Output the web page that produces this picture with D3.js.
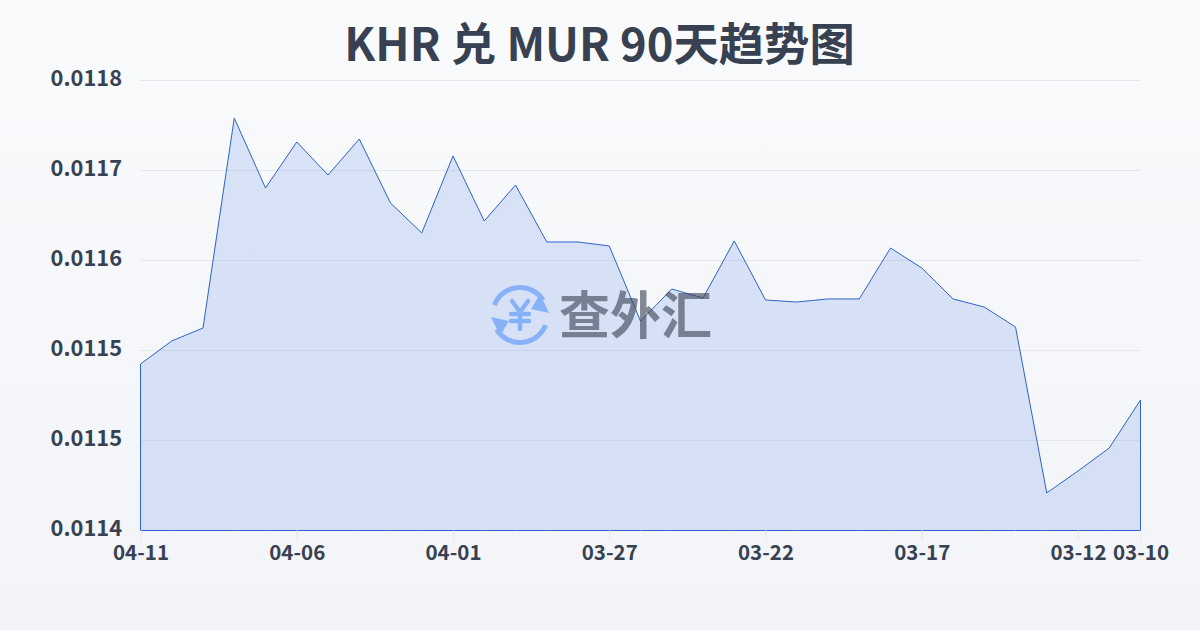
<!DOCTYPE html>
<html>
<head>
<meta charset="utf-8">
<script src="https://cdn.jsdelivr.net/npm/d3@7/dist/d3.min.js"></script>
<style>
    html, body { margin: 0; padding: 0; width: 1200px; height: 630px; overflow: hidden; }
    text { font-family: "Noto Sans CJK SC", "Noto Sans", sans-serif; }
</style>
</head>
<body>
<div id="chart"></div>
<script>
// --- Data ---
const dates = ["04-11","04-10","04-09","04-08","04-07","04-06","04-05","04-04","04-03","04-02","04-01",
    "03-31","03-30","03-29","03-28","03-27","03-26","03-25","03-24","03-23","03-22",
    "03-21","03-20","03-19","03-18","03-17","03-16","03-15","03-14","03-13","03-12","03-11","03-10"];
const rates = [0.0115295,0.0115474,0.0115575,0.0117208,0.0116664,0.0117022,0.0116765,0.0117045,0.0116547,0.0116314,0.0116913,
    0.0116407,0.0116687,0.0116244,0.0116244,0.0116213,0.0115629,0.0115878,0.0115808,0.0116252,0.0115793,
    0.0115777,0.0115801,0.0115801,0.0116197,0.0116042,0.0115801,0.0115738,0.0115583,0.0114292,0.0114463,0.0114642,0.0115015];
const xTickLabels = ["04-11","04-06","04-01","03-27","03-22","03-17","03-12","03-10"];
const yTicks = [0.0114,0.01147,0.01154,0.01161,0.01168,0.01175];
const title = "KHR 兑 MUR 90天趋势图";
const watermark = "查外汇";

const width = 1200, height = 630;
const margin = {top: 80.5, right: 59.5, bottom: 99.5, left: 140.5};

const svg = d3.select("#chart").append("svg")
    .attr("width", width).attr("height", height)
    .style("display", "block");

const defs = svg.append("defs");
const bg = defs.append("linearGradient").attr("id", "bg").attr("x1", 0).attr("y1", 0).attr("x2", 0).attr("y2", 1);
bg.append("stop").attr("offset", "0%").attr("stop-color", "#f8fafc");
bg.append("stop").attr("offset", "100%").attr("stop-color", "#f2f4f7");

svg.append("rect").attr("width", width).attr("height", height).attr("fill", "url(#bg)");

const x = d3.scalePoint().domain(dates).range([margin.left, width - margin.right]);
const y = d3.scaleLinear().domain([yTicks[0], yTicks[yTicks.length - 1]]).range([height - margin.bottom, margin.top]);

// gridlines
svg.append("g").selectAll("line").data(yTicks).join("line")
    .attr("x1", margin.left).attr("x2", width - margin.right + 0.5)
    .attr("y1", d => y(d)).attr("y2", d => y(d))
    .attr("stroke", "#e4e7ec").attr("stroke-width", 1);

// area, its outline runs round the bottom as well
const area = d3.area().x((d, i) => x(dates[i])).y0(y(yTicks[0])).y1(d => y(d));
svg.append("path").datum(rates)
    .attr("d", area)
    .attr("fill", "#3f74e6").attr("fill-opacity", 0.17)
    .attr("stroke", "#2f62c9").attr("stroke-width", 1).attr("stroke-linejoin", "miter");

// x axis
const xAxis = svg.append("g").attr("transform", `translate(0,${height - margin.bottom})`)
    .call(d3.axisBottom(x).tickValues(xTickLabels).tickSize(10).tickPadding(5));
xAxis.select(".domain").remove();
xAxis.selectAll(".tick line").attr("stroke", "#e4e7ec");
xAxis.selectAll("text").attr("fill", "#374151").attr("font-size", 20.5).attr("font-weight", 700)
    .style("font-family", '"Noto Sans CJK SC", sans-serif');

// y axis
const yAxis = svg.append("g").attr("transform", `translate(${margin.left},0)`)
    .call(d3.axisLeft(y).tickValues(yTicks).tickSize(0).tickPadding(18.5).tickFormat(d3.format(".4f")));
yAxis.select(".domain").remove();
yAxis.selectAll("text").attr("fill", "#374151").attr("font-size", 21.8).attr("font-weight", 700)
    .attr("dy", "0.24em")
    .style("font-family", '"Noto Sans CJK SC", sans-serif');

// title
svg.append("text").attr("x", 599.5).attr("y", 61).attr("text-anchor", "middle")
    .attr("font-size", 45.3).attr("font-weight", 700).attr("fill", "#374151").text(title);

// watermark logo, translucent on top of the series
const logoColor = "#5594fa";
const logo = svg.append("g").attr("transform", "translate(520,315)").attr("opacity", 0.6);
const ring = d3.arc().innerRadius(25).outerRadius(30);
logo.append("path").attr("d", ring({startAngle: -1.2, endAngle: 1.0})).attr("fill", logoColor);
logo.append("path").attr("d", ring({startAngle: 1.95, endAngle: 4.15})).attr("fill", logoColor);
logo.append("path").attr("d", "M20,-21 L29,-2 L11,-6 Z").attr("fill", logoColor);
logo.append("path").attr("d", "M-20,21 L-29,2 L-11,6 Z").attr("fill", logoColor);
logo.append("path").attr("d", "M-8,-14 L0,-3 L8,-14 M-9,-1 H9 M-9,6 H9 M0,-3 V14")
    .attr("fill", "none").attr("stroke", logoColor).attr("stroke-width", 4.5).attr("stroke-linecap", "round").attr("stroke-linejoin", "round");
svg.append("text").attr("x", 635.5).attr("y", 334).attr("text-anchor", "middle")
    .attr("font-size", 51).attr("font-weight", 700).attr("fill", "#374151").attr("opacity", 0.6).text(watermark);
</script>
</body>
</html>
